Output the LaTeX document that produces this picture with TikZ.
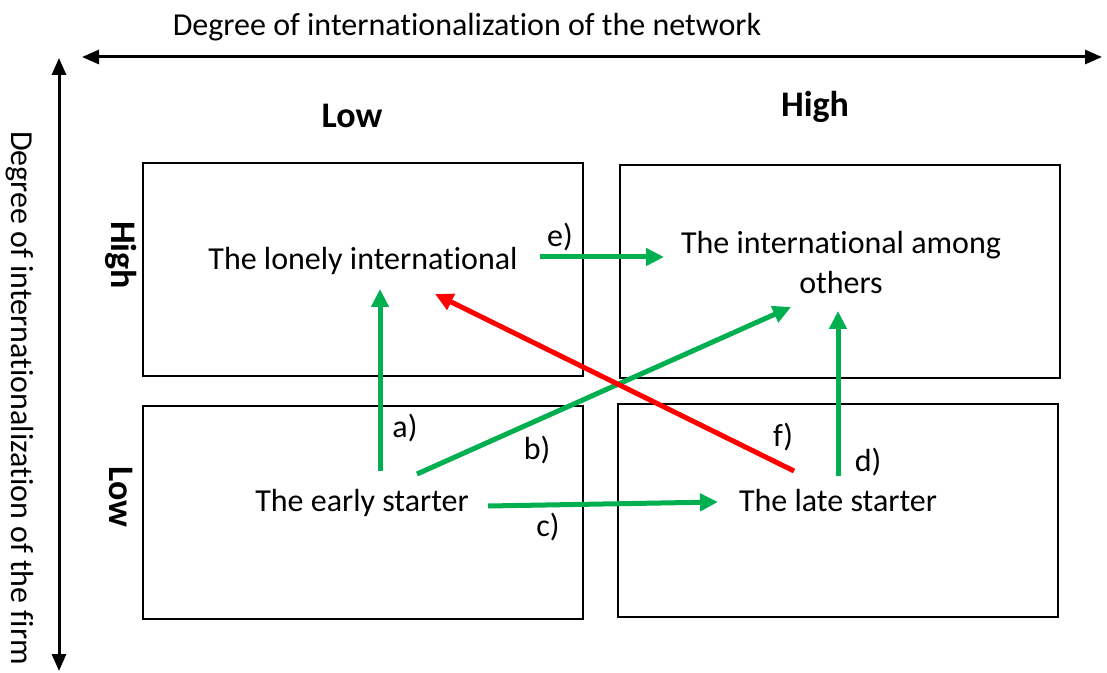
\documentclass[tikz,border=0pt]{standalone}
\usepackage{fontspec}
\setmainfont{Carlito}[Ligatures={NoCommon}]
\usetikzlibrary{arrows.meta}
\definecolor{agreen}{HTML}{00B050}
\definecolor{ared}{HTML}{FF0000}
\begin{document}
\begin{tikzpicture}[x=0.5pt,y=-0.5pt,
 cell/.style={draw,line width=1pt,minimum width=220pt,minimum height=106.5pt,inner sep=0},
 txt/.style={font=\fontsize{16}{20}\selectfont,inner sep=0,align=center},
 hdr/.style={font=\fontsize{18}{22}\selectfont\bfseries,inner sep=0},
 axis/.style={line width=1.5pt,{Triangle[length=8.5pt,width=7pt]}-{Triangle[length=8.5pt,width=7pt]}},
 garr/.style={agreen,line width=2.5pt,-{Triangle[length=9pt,width=8.5pt]}},
 rarr/.style={ared,line width=2.5pt,-{Triangle[length=9pt,width=8.5pt]}}]
\useasboundingbox (0,0) rectangle (1107,673);
% axes
\coordinate (hl) at (82,57);
\coordinate (hr) at (1102,57);
\coordinate (vt) at (59,58);
\coordinate (vb) at (59,671);
\draw[axis] (hl) -- (hr);
\draw[axis] (vt) -- (vb);
\node[txt] (xlab) at (467,27) {Degree of internationalization of the network};
\node[txt,rotate=-90] (ylab) at (20,398) {Degree of internationalization of the firm};
% headers
\node[hdr] (lowx) at (352,116) {Low};
\node[hdr] (highx) at (815,107) {High};
\node[hdr,rotate=-90] (highy) at (121,255) {High};
\node[hdr,rotate=-90] (lowy) at (121,497) {Low};
% cells
\node[cell] (tl) at (363,269.5) {};
\node[cell] (tr) at (840,271.5) {};
\node[cell] (bl) at (363,512) {};
\node[cell] (br) at (838,510) {};
% texts
\node[txt] (lonely) at (363,261) {The lonely international};
\node[txt] (among) at (841,263) {The international among\\others};
\node[txt] (early) at (362,503) {The early starter};
\node[txt] (late) at (838,501) {The late starter};
% arrow endpoints
\coordinate (a0) at (380,471); \coordinate (a1) at (380,289);
\coordinate (b0) at (417,474); \coordinate (b1) at (791,307);
\coordinate (c0) at (488,506); \coordinate (c1) at (718,502);
\coordinate (d0) at (838,476); \coordinate (d1) at (838,311);
\coordinate (e0) at (540,257); \coordinate (e1) at (664,257);
\coordinate (f0) at (794,471); \coordinate (f1) at (435,294);
\draw[garr] (a0) -- (a1);
\draw[garr] (b0) -- (b1);
\draw[garr] (c0) -- (c1);
\draw[garr] (d0) -- (d1);
\draw[garr] (e0) -- (e1);
\draw[rarr] (f0) -- (f1);
% labels
\node[txt] (la) at (405,428) {a)};
\node[txt] (lb) at (537,450) {b)};
\node[txt] (lc) at (548,527) {c)};
\node[txt] (ld) at (868,462) {d)};
\node[txt] (le) at (560,237) {e)};
\node[txt] (lf) at (783,437) {f)};
\end{tikzpicture}
\end{document}
